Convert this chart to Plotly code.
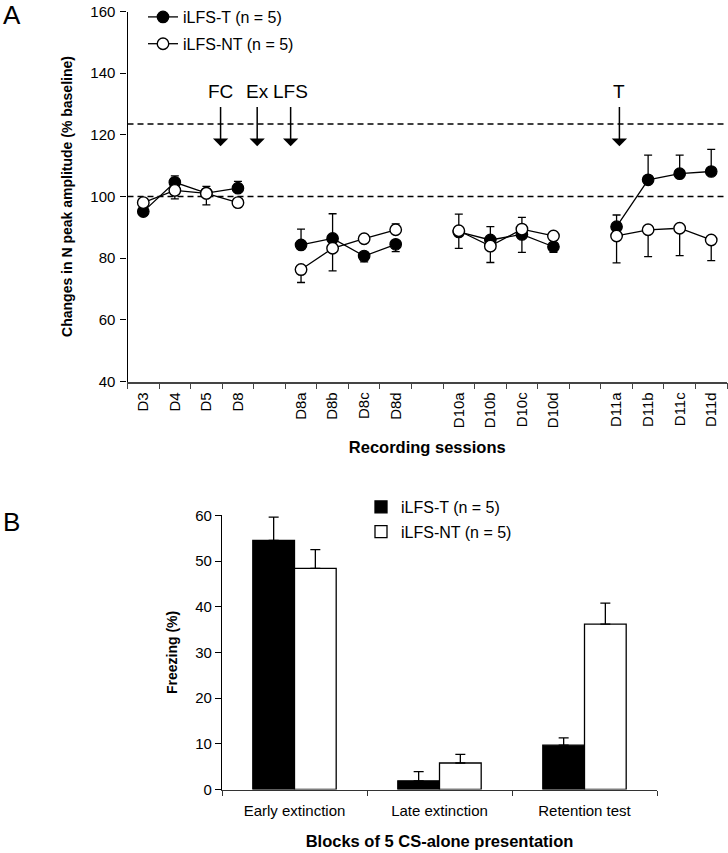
import plotly.graph_objects as go

# ---------------- data: panel A ----------------
sessions = ["D3", "D4", "D5", "D8", " ",
            "D8a", "D8b", "D8c", "D8d", "  ",
            "D10a", "D10b", "D10c", "D10d", "   ",
            "D11a", "D11b", "D11c", "D11d"]

t_mean = [95.1, 104.6, 101.1, 102.7, None,
          84.3, 86.4, 80.7, 84.5, None,
          88.5, 85.9, 87.7, 83.7, None,
          90.2, 105.4, 107.4, 108.1]
t_err_up = [0, 2.1, 2.2, 2.2, 0,
            5.1, 8.0, 0, 0, 0,
            0, 4.3, 0, 0, 0,
            3.8, 8.0, 6.0, 7.2]
t_err_dn = [0, 0, 0, 0, 0,
            0, 0, 1.9, 2.4, 0,
            5.3, 0, 5.8, 1.8, 0,
            0, 0, 0, 0]

nt_mean = [98.0, 102.0, 101.0, 98.0, None,
           76.3, 83.2, 86.3, 89.2, None,
           88.9, 83.9, 89.4, 87.2, None,
           87.2, 89.2, 89.7, 85.9]
nt_err_up = [0, 0, 0, 0, 0,
             0, 0, 0, 1.9, 0,
             5.4, 0, 3.8, 0, 0,
             0, 0, 0, 0]
nt_err_dn = [0, 2.8, 3.7, 1.5, 0,
             4.2, 7.3, 0, 0, 0,
             0, 5.3, 0, 0, 0,
             8.7, 8.7, 8.9, 6.7]

ref_levels = [100, 123.5]
events = ["FC", "Ex", "LFS", "T"]

# ---------------- data: panel B ----------------
blocks = ["Early extinction", "Late extinction", "Retention test"]
frz_t = [54.5, 1.9, 9.7]
frz_t_err = [5.1, 2.0, 1.6]
frz_nt = [48.4, 5.8, 36.2]
frz_nt_err = [4.1, 1.9, 4.6]

FONT = "Liberation Sans, Arial, sans-serif"
W, H = 728, 853

fig = go.Figure()

fig.add_trace(go.Scatter(
    x=sessions, y=t_mean, mode="lines+markers", name="iLFS-T (n = 5)",
    connectgaps=False, legend="legend", legendgroup="a1",
    line=dict(color="black", width=1.3),
    marker=dict(symbol="circle", size=11.5, color="black",
                line=dict(color="black", width=1.2)),
    error_y=dict(type="data", symmetric=False, array=t_err_up,
                 arrayminus=t_err_dn, color="black", thickness=1.3, width=4),
    xaxis="x", yaxis="y"))

fig.add_trace(go.Scatter(
    x=sessions, y=nt_mean, mode="lines+markers", name="iLFS-NT (n = 5)",
    connectgaps=False, legend="legend", legendgroup="a2",
    line=dict(color="black", width=1.3),
    marker=dict(symbol="circle", size=11.5, color="white",
                line=dict(color="black", width=1.4)),
    error_y=dict(type="data", symmetric=False, array=nt_err_up,
                 arrayminus=nt_err_dn, color="black", thickness=1.3, width=4),
    xaxis="x", yaxis="y"))

fig.add_trace(go.Bar(
    x=blocks, y=frz_t, name="iLFS-T (n = 5)", legend="legend2", legendgroup="b1",
    marker=dict(color="black", line=dict(color="black", width=1.3)),
    error_y=dict(type="data", symmetric=False, array=frz_t_err,
                 arrayminus=[0] * len(frz_t), color="black", thickness=1.3, width=5),
    xaxis="x2", yaxis="y2"))

fig.add_trace(go.Bar(
    x=blocks, y=frz_nt, name="iLFS-NT (n = 5)", legend="legend2", legendgroup="b2",
    marker=dict(color="white", line=dict(color="black", width=1.3)),
    error_y=dict(type="data", symmetric=False, array=frz_nt_err,
                 arrayminus=[0] * len(frz_nt), color="black", thickness=1.3, width=5),
    xaxis="x2", yaxis="y2"))

# dashed reference lines
for lv in ref_levels:
    fig.add_shape(type="line", xref="x domain", yref="y", x0=0, x1=1, y0=lv, y1=lv,
                  line=dict(color="black", width=1.5, dash="6px,4px"), layer="below")

# event arrows
ev_x = [2.45, 3.61, 4.67, 15.09]
for lab, xv in zip(events, ev_x):
    fig.add_annotation(x=xv, y=116.3, ax=xv, ay=129.5, xref="x", yref="y",
                       axref="x", ayref="y", text="", showarrow=True,
                       arrowhead=1, arrowsize=1.7, arrowwidth=1.5, arrowcolor="black")
    fig.add_annotation(x=xv, y=134.0, xref="x", yref="y", text=lab, showarrow=False,
                       font=dict(family=FONT, size=19, color="black"))

# panel letters
fig.add_annotation(x=0, y=1.0, xref="paper", yref="paper", text="A", showarrow=False,
                   xanchor="left", yanchor="top", xshift=1, yshift=2,
                   font=dict(family=FONT, size=26, color="black"))
fig.add_annotation(x=0, y=1 - 505 / H, xref="paper", yref="paper", text="B", showarrow=False,
                   xanchor="left", yanchor="top", xshift=1,
                   font=dict(family=FONT, size=26, color="black"))

tickfont = dict(family=FONT, size=15, color="black")
titlefont = dict(family=FONT, size=14, color="black", weight="bold")
htitlefont = dict(family=FONT, size=16.5, color="black", weight="bold")

fig.update_layout(
    width=W, height=H,
    margin=dict(l=0, r=0, t=0, b=0, autoexpand=False),
    paper_bgcolor="white", plot_bgcolor="white",
    font=dict(family=FONT, color="black"),
    barmode="group", bargap=0.425, bargroupgap=0,
    xaxis=dict(domain=[127.5 / W, 727 / W], anchor="y", type="category",
               categoryorder="array", categoryarray=sessions,
               range=[-0.5, 18.5], tickson="boundaries", automargin=False,
               showline=True, linecolor="#444", linewidth=1.6,
               ticks="outside", ticklen=6, tickcolor="#444", tickwidth=1.2,
               tickangle=-90, tickfont=tickfont, ticklabelstandoff=3,
               showgrid=False, zeroline=False,
               title=dict(text="Recording sessions", font=htitlefont, standoff=14)),
    yaxis=dict(domain=[1 - 381.5 / H, 1 - 11.5 / H], anchor="x",
               range=[40, 160], tickvals=[40, 60, 80, 100, 120, 140, 160],
               showline=True, linecolor="black", linewidth=1.2, automargin=False,
               ticks="outside", ticklen=6, tickcolor="black", tickwidth=1.2,
               tickfont=tickfont, ticklabelstandoff=2,
               showgrid=False, zeroline=False,
               title=dict(text="Changes in N peak amplitude (% baseline)",
                          font=titlefont, standoff=14)),
    xaxis2=dict(domain=[222 / W, 657 / W], anchor="y2", type="category",
                tickson="boundaries", automargin=False,
                showline=True, linecolor="#333", linewidth=1.4,
                ticks="outside", ticklen=5, tickcolor="#333", tickwidth=1.2,
                tickfont=tickfont, ticklabelstandoff=7,
                showgrid=False, zeroline=False,
                title=dict(text="Blocks of 5 CS-alone presentation",
                           font=htitlefont, standoff=17)),
    yaxis2=dict(domain=[1 - 789.5 / H, 1 - 515.3 / H], anchor="x2",
                range=[0, 60], tickvals=[0, 10, 20, 30, 40, 50, 60],
                showline=True, linecolor="black", linewidth=1.2, automargin=False,
                ticks="outside", ticklen=6, tickcolor="black", tickwidth=1.2,
                tickfont=tickfont, showgrid=False, zeroline=False,
                title=dict(text="Freezing (%)", font=titlefont, standoff=14)),
    legend=dict(x=143 / W, y=1.0, xanchor="left", yanchor="top",
                bgcolor="rgba(0,0,0,0)", borderwidth=0, tracegroupgap=3,
                font=dict(family=FONT, size=16, color="black")),
    legend2=dict(x=361 / W, y=1 - 490 / H, xanchor="left", yanchor="top",
                 bgcolor="rgba(0,0,0,0)", borderwidth=0, tracegroupgap=1,
                 font=dict(family=FONT, size=16, color="black")),
)

post = ("document.body.style.margin='0';document.body.style.padding='0';"
        "document.body.style.overflow='hidden';"
        "var d=document.getElementById('{plot_id}');"
        "d.style.position='absolute';d.style.left='0px';d.style.top='0px';")

fig.write_html("out.html", post_script=post, config={"displayModeBar": False})
